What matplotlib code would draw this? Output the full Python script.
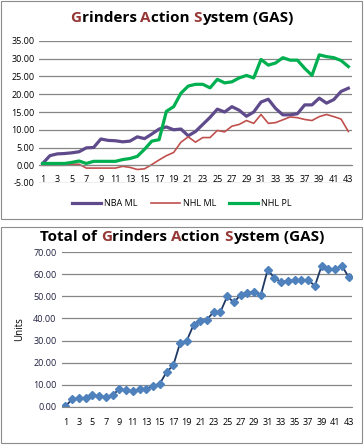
import matplotlib
matplotlib.use('Agg')
import matplotlib.pyplot as plt
from matplotlib.patches import Rectangle

# game numbers
games = list(range(1, 44))

nba_ml = [0.5, 2.7, 3.2, 3.3, 3.5, 3.8, 4.9, 5.0, 7.4, 7.0, 6.9, 6.6, 6.8, 8.0, 7.5,
          8.8, 10.2, 10.8, 10.0, 10.2, 8.3, 9.5, 11.5, 13.5, 15.8, 15.0, 16.5, 15.5,
          13.8, 15.0, 17.8, 18.6, 16.0, 14.2, 14.2, 14.5, 17.0, 17.0, 18.9, 17.5,
          18.5, 20.8, 21.7]
nhl_ml = [0.0, 0.0, 0.0, 0.0, 0.3, 0.3, -0.8, -0.8, -0.8, -0.8, -0.8, -0.3, -0.6,
          -1.2, -1.0, 0.2, 1.5, 2.7, 3.6, 6.5, 8.0, 6.5, 7.8, 7.8, 9.8, 9.4, 11.0,
          11.5, 12.6, 11.8, 14.3, 11.8, 12.0, 12.8, 13.6, 13.4, 12.9, 12.6, 13.7,
          14.3, 13.7, 13.0, 9.5]
nhl_pl = [0.5, 0.5, 0.5, 0.5, 0.8, 1.2, 0.5, 1.1, 1.1, 1.1, 1.1, 1.6, 1.9, 2.5, 4.5,
          6.8, 7.2, 15.2, 16.5, 20.3, 22.3, 22.8, 22.8, 21.8, 24.2, 23.2, 23.5, 24.6,
          25.3, 24.6, 29.8, 28.2, 28.8, 30.3, 29.6, 29.6, 27.3, 25.3, 31.1, 30.6,
          30.3, 29.5, 27.8]
total = [0.3, 3.5, 4.0, 4.0, 5.3, 5.0, 4.5, 5.5, 8.0, 7.6, 7.2, 8.0, 8.2, 9.5, 10.5,
         15.8, 18.8, 28.8, 30.0, 37.0, 38.8, 39.5, 43.0, 43.0, 50.0, 47.2, 50.8, 51.7,
         51.8, 50.7, 62.0, 58.2, 56.5, 57.0, 57.3, 57.3, 57.3, 54.7, 63.8, 62.3,
         62.2, 63.8, 58.7]

top_ticks = [-5, 0, 5, 10, 15, 20, 25, 30, 35]
bot_ticks = [0, 10, 20, 30, 40, 50, 60, 70]

plt.rcParams['font.family'] = ['Open Sans', 'DejaVu Sans']
fig = plt.figure(figsize=(3.64, 4.46), dpi=100)

# chart frames
for y0, h in [(1 - 219/446, 218/446), (1 - 443/446, 216/446)]:
    fig.patches.append(Rectangle((0.004, y0), 0.99, h, transform=fig.transFigure,
                                 fill=False, edgecolor='#8c8c8c', lw=0.8))


def colored_title(parts, y, size):
    # draw title pieces one after another, centred on the figure
    r = fig.canvas.get_renderer()
    texts = []
    for s, c in parts:
        t = fig.text(0, y, s, color=c, fontsize=size, fontweight='bold', va='center')
        texts.append(t)
    widths = [t.get_window_extent(r).width for t in texts]
    x = (fig.bbox.width - sum(widths)) / 2
    for t, w in zip(texts, widths):
        t.set_x(x / fig.bbox.width)
        x += w


red = '#953735'
colored_title([('G', red), ('rinders ', 'black'), ('A', red), ('ction ', 'black'),
               ('S', red), ('ystem (GAS)', 'black')], 1 - 18/446, 11)
colored_title([('Total of ', 'black'), ('G', red), ('rinders ', 'black'), ('A', red),
               ('ction ', 'black'), ('S', red), ('ystem (GAS)', 'black')], 1 - 237/446, 11)

# top chart
ax = fig.add_axes([39/364, 1 - 183/446, 313/364, 142/446])
ax.plot(games, nba_ml, color='#5f4b8b', lw=2.3, label='NBA ML')
ax.plot(games, nhl_ml, color='#c0504d', lw=1.2, label='NHL ML')
ax.plot(games, nhl_pl, color='#00b050', lw=2.3, label='NHL PL')
ax.set_xlim(0.5, 43.5)
ax.set_ylim(-5, 35)
ax.set_yticks(top_ticks)
ax.set_yticklabels([f'{v:.2f}' for v in top_ticks])
ax.set_xticks(games[::2])
ax.grid(axis='y', color='#868686', lw=0.9)
ax.set_axisbelow(True)
for s in ['top', 'right', 'left']:
    ax.spines[s].set_visible(False)
ax.spines['bottom'].set_position(('data', 0))
ax.spines['bottom'].set_color('#868686')
ax.tick_params(axis='both', length=0, labelsize=6.5, pad=3)
ax.tick_params(axis='x', pad=7)
fig.legend(loc='center', bbox_to_anchor=(0.5, 1 - 204/446), ncol=3, frameon=False,
           fontsize=6.5, handlelength=3.2, columnspacing=1.5, handletextpad=0.3)

# bottom chart
ax2 = fig.add_axes([62/364, 1 - 407/446, 290/364, 155/446])
ax2.plot(games, total, color='#1f3864', lw=1.3, marker='D', markersize=4.5,
         markerfacecolor='#4f81bd', markeredgecolor='#4f81bd')
ax2.set_xlim(0.5, 43.5)
ax2.set_ylim(0, 70)
ax2.set_yticks(bot_ticks)
ax2.set_yticklabels([f'{v:.2f}' for v in bot_ticks], color='#1f1f3f')
ax2.set_xticks(games[::2])
ax2.grid(axis='y', color='#868686', lw=0.9)
ax2.set_axisbelow(True)
for s in ['top', 'right', 'left']:
    ax2.spines[s].set_visible(False)
ax2.spines['bottom'].set_color('#868686')
ax2.tick_params(axis='both', length=0, labelsize=6.5, pad=4)
ax2.tick_params(axis='x', pad=8)
ax2.set_ylabel('Units', fontsize=7, labelpad=6)

fig.savefig('out.png', dpi=100)
